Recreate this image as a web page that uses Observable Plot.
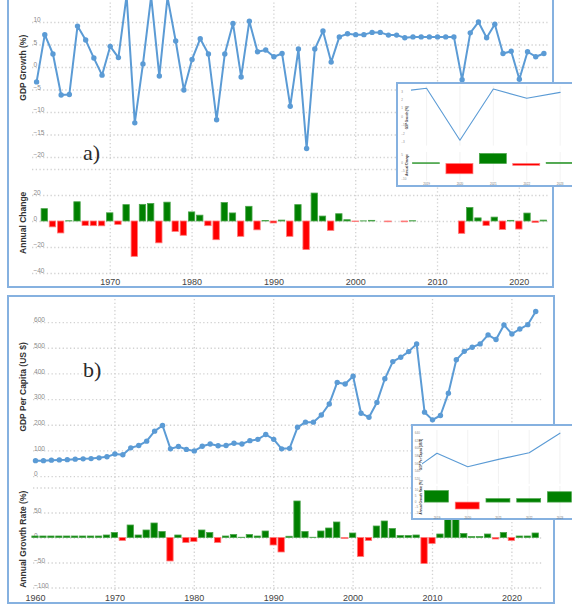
<!DOCTYPE html>
<html>
<head>
<meta charset="utf-8">
<script src="https://cdn.jsdelivr.net/npm/d3@7"></script>
<script src="https://cdn.jsdelivr.net/npm/@observablehq/plot@0.6"></script>
<style>
  html, body { margin: 0; padding: 0; background: #fff; }
  #root { position: relative; width: 572px; height: 605px; overflow: hidden; background: #fff; font-family: "Liberation Sans", Arial, sans-serif; }
  .panel, .inset { position: absolute; box-sizing: border-box; border: 2px solid #86b1e0; background: #fff; }
  .tag { position: absolute; font-family: "Liberation Serif", "DejaVu Serif", serif; font-size: 22px; line-height: 22px; color: #2a2a2a; }
</style>
</head>
<body>
<div id="root"></div>
<script>
// ---------------- DATA ----------------
const growthYears = d3.range(1961, 2024);
const gdpGrowth = [
  -3.2, 7.3, 3.0, -6.1, -6.0, 9.2, 6.1, 2.1, -1.7, 4.7,
  2.2, 16.0, -12.3, 0.8, 15.8, -1.9, 15.6, 5.9, -5.0, 1.8,
  6.4, 3.0, -11.6, 3.0, 9.8, -2.1, 10.3, 3.5, 3.9, 2.4,
  3.1, -8.6, 4.1, -18.0, 4.1, 8.1, 1.2, 6.8, 7.5, 7.3,
  7.3, 7.8, 7.8, 7.2, 7.2, 6.6, 6.8, 6.8, 6.8, 6.8,
  6.8, 6.8, -2.7, 7.7, 10.1, 6.6, 9.6, 3.1, 3.6, -2.6,
  3.5, 2.4, 3.1
];
const changeYears = d3.range(1962, 2024);
const annualChange = [
  9.5, -4.5, -9.2, 0.2, 14.8, -3.5, -3.6, -3.7, 6.3, -2.6,
  12.6, -27.2, 12.8, 13.5, -16.8, 14.5, -8.0, -11.0, 7.0, 4.5,
  -3.6, -14.4, 14.2, 6.2, -11.8, 11.3, -6.8, 0.4, -1.5, 0.7,
  -11.8, 12.6, -22.0, 21.5, 3.8, -7.2, 5.6, 1.0, -0.3, 0.1,
  0.5, 0.0, -0.6, 0.0, -0.6, 0.2, 0.0, 0.0, 0.0, 0.0,
  0.0, -9.5, 10.4, 2.4, -3.5, 3.0, -6.5, 0.5, -6.2, 6.1,
  -1.1, 0.7
];
const pcYears = d3.range(1960, 2024);
const gdpPerCapita = [
  62, 62, 64, 65, 66, 68, 69, 70, 73, 77,
  88, 85, 112, 121, 138, 177, 199, 108, 117, 106,
  100, 118, 127, 120, 121, 130, 127, 140, 145, 164,
  145, 108, 110, 192, 212, 212, 240, 283, 367, 361,
  391, 247, 231, 289, 381, 448, 465, 487, 517, 251,
  221, 238, 325, 455, 488, 504, 517, 552, 534, 591,
  556, 575, 592, 643
];
const growthRate = [
  3, 3, 3, 3, 3, 3, 3, 3, 3, 5,
  10, -6, 25, 5, 15, 29, 12, -47, 5, -10,
  -8, 15, 10, -10, 3, 6, 0.5, 6, 3, 13,
  -15, -29, 2.5, 73, 12, 0.5, 13, 19, 31, -2,
  9, -38, -6, 23, 33, 18, 4, 4, 5, -52,
  -12, 7, 37, 40, 8, 2, 2, 7, -3, 10,
  -6, 3, 3, 9
];

// tick labels / titles
const decadesA = [1970, 1980, 1990, 2000, 2010, 2020];
const decadesB = [1960, 1970, 1980, 1990, 2000, 2010, 2020];
const growthTicks = [-20, -15, -10, -5, 0, 5, 10];
const changeTicks = [-40, -20, 0, 20];
const changeGrid = [-40, -20, 0, 20, 40];
const gdpTicks = [0, 100, 200, 300, 400, 500, 600];
const rateTicks = [-100, -50, 0, 50];
const rateGrid = [-100, -50, 0, 50, 100];
const insetYears = [2019, 2020, 2021, 2022, 2023];
const insetGrowthTicks = [-3, -2, -1, 0, 1, 2, 3];
const insetChangeTicks = [-10, -5, 0, 5];
const insetGdpTicks = [520, 540, 560, 580, 600, 620, 640];
const insetRateTicks = [-10, -5, 0, 5, 10];
const titleGrowth = "GDP Growth (%)";
const titleChange = "Annual Change";
const titlePC = "GDP Per Capita (US $)";
const titleRate = "Annual Growth Rate (%)";
const tagA = "a)", tagB = "b)";

// ---------------- TABLES ----------------
const rowsGrowth = growthYears.map((year, i) => ({year, value: gdpGrowth[i]}));
const rowsChange = changeYears.map((year, i) => ({year, value: annualChange[i]}));
const rowsPC = pcYears.map((year, i) => ({year, value: gdpPerCapita[i]}));
const rowsRate = pcYears.map((year, i) => ({year, value: growthRate[i]}));

// ---------------- STYLE ----------------
const GREEN = "#008000", GREEN_EDGE = "#4ba54b", RED = "#ff0000", RED_EDGE = "#ff7a7a";
const LINE = "#5b9bd5", GRID = "#d2d2d2", TICK = "#8a8a8a", AXIS = "#444", TITLE = "#333";
const FONT = "Liberation Sans, Arial, sans-serif";

const root = document.getElementById("root");
function addDiv(cls, l, t, w, h, text) {
  const d = document.createElement("div");
  d.className = cls;
  d.style.left = l + "px"; d.style.top = t + "px";
  if (w != null) d.style.width = w + "px";
  if (h != null) d.style.height = h + "px";
  if (text) d.textContent = text;
  root.appendChild(d);
}
function chart(frame, xDomain, yDomain, marks, m = {}) {
  const mL = m.l ?? 30, mR = m.r ?? 6, mT = m.t ?? 4, mB = m.b ?? 4;
  const svg = Plot.plot({
    width: mL + (frame.r - frame.l) + mR,
    height: mT + (frame.b - frame.t) + mB,
    marginLeft: mL, marginRight: mR, marginTop: mT, marginBottom: mB,
    x: {domain: xDomain, axis: null, label: null},
    y: {domain: yDomain, axis: null, label: null},
    color: {type: "identity"},
    style: {background: "transparent", overflow: "visible", fontFamily: FONT},
    marks
  });
  svg.style.position = "absolute";
  svg.style.left = (frame.l - mL) + "px";
  svg.style.top = (frame.t - mT) + "px";
  svg.style.maxWidth = "none";
  root.appendChild(svg);
}
const hgrid = (ticks, o = {}) => Plot.ruleY(ticks, {stroke: GRID, strokeWidth: 1.3, strokeDasharray: "1.3,2.4", ...o});
const vgrid = (ticks, o = {}) => Plot.ruleX(ticks, {stroke: GRID, strokeWidth: 1.3, strokeDasharray: "1.3,2.4", ...o});
const yLabels = (ticks, dx, fontSize = 6.5, dy = -2.5) => Plot.axisY({ticks, tickSize: 0, tickPadding: 0, textAnchor: "start", dx, dy, fontSize, color: TICK, label: null});
const xLabels = (ticks, tickPadding, fontSize = 9, color = AXIS) => Plot.axisX({ticks, tickSize: 0, tickPadding, tickFormat: "d", fontSize, color, label: null});
const yTitle = (title, dx, dy, fontSize = 8.5) => Plot.text([title], {text: d => d, frameAnchor: "left", textAnchor: "middle", lineAnchor: "middle", rotate: -90, dx, dy, fontSize, fontWeight: "bold", fill: TITLE});
const bars = (rows, inset, sw = 0.8, o = {}) => Plot.rect(rows, {
  x1: d => d.year - 0.5, x2: d => d.year + 0.5, y1: 0, y2: "value",
  insetLeft: inset, insetRight: inset,
  fill: d => d.value >= 0 ? GREEN : RED,
  stroke: d => d.value >= 0 ? GREEN_EDGE : RED_EDGE, strokeWidth: sw, ...o
});

// ---------------- PANELS ----------------
addDiv("panel", 7, -10, 547, 298);
addDiv("panel", 7, 295, 548, 309);

// Panel a: GDP growth line
const xA = [1960.5, 2023.5];
chart({l: 32.1, r: 547.6, t: -4.7, b: 161.8}, xA, [-21, 16], [
  hgrid(growthTicks),
  vgrid(decadesA),
  yLabels(growthTicks, 0.9),
  yTitle(titleGrowth, -9, -11),
  Plot.line(rowsGrowth, {x: "year", y: "value", stroke: LINE, strokeWidth: 2}),
  Plot.dot(rowsGrowth, {x: "year", y: "value", r: 2.7, fill: LINE})
]);
// Panel a: annual change bars
chart({l: 32.1, r: 547.6, t: 168.7, b: 275.3}, xA, [-42, 40], [
  hgrid(changeGrid),
  vgrid(decadesA),
  yLabels(changeTicks, 0.9),
  yTitle(titleChange, -9, 0),
  bars(rowsChange, 0.9),
  xLabels(decadesA, 2.5)
], {b: 14});

// Panel b: GDP per capita line
const xB = [1959.75, 2023.9];
chart({l: 32.5, r: 541.9, t: 298.9, b: 483.7}, xB, [-30, 690], [
  hgrid(gdpTicks),
  vgrid(decadesB.slice(1)),
  yLabels(gdpTicks, 0.5),
  yTitle(titlePC, -10.5, -5),
  Plot.line(rowsPC, {x: "year", y: "value", stroke: LINE, strokeWidth: 2}),
  Plot.dot(rowsPC, {x: "year", y: "value", r: 2.7, fill: LINE})
]);
// Panel b: growth rate bars
chart({l: 32.5, r: 541.9, t: 485.2, b: 592.7}, xB, [-110, 105], [
  hgrid(rateGrid),
  vgrid(decadesB.slice(1)),
  yLabels(rateTicks, 0.5),
  yTitle(titleRate, -10.5, 0),
  bars(rowsRate, 0.8),
  xLabels(decadesB, 1.7)
], {b: 14});

addDiv("tag", 83, 141.5, null, null, tagA);
addDiv("tag", 83, 358.5, null, null, tagB);

// ---------------- INSETS ----------------
addDiv("inset", 396, 82, 200, 105);
addDiv("inset", 410.5, 424, 200, 96);

const inA = rowsGrowth.filter(d => d.year >= 2018);
const inAc = rowsChange.filter(d => d.year >= 2019);
const xIA = [2018.55, 2023.45];
chart({l: 410.7, r: 574.4, t: 85.6, b: 145.2}, xIA, [-3.3, 3.8], [
  Plot.ruleX(insetYears, {stroke: "#efefef", strokeWidth: 0.8}),
  yLabels(insetGrowthTicks, -10.2, 3, -1.5),
  yTitle(titleGrowth, -4.7, 1.5, 3),
  Plot.line(inA, {x: "year", y: "value", stroke: LINE, strokeWidth: 1.1, clip: true})
], {l: 14, r: 2, t: 2, b: 2});
chart({l: 410.7, r: 574.4, t: 151.75, b: 180.6}, xIA, [-10.5, 7], [
  Plot.ruleX(insetYears, {stroke: "#efefef", strokeWidth: 0.8}),
  yLabels(insetChangeTicks, -10.2, 3, -1),
  yTitle(titleChange, -4.7, -2, 3),
  bars(inAc, 3.2, 0.7),
  xLabels(insetYears, 1.2, 3, "#777")
], {l: 14, r: 2, t: 2, b: 6});

const inB = rowsPC.filter(d => d.year >= 2018);
const inBr = rowsRate.filter(d => d.year >= 2019);
const xIB = [2018.53, 2023.45];
chart({l: 421.7, r: 573, t: 430, b: 483.9}, xIB, [510, 650], [
  Plot.ruleX(insetYears, {stroke: "#efefef", strokeWidth: 0.8}),
  yLabels(insetGdpTicks, -7.7, 3, -1.5),
  yTitle(titlePC, -1.8, -3, 3),
  Plot.line(inB, {x: "year", y: "value", stroke: LINE, strokeWidth: 1.1, clip: true})
], {l: 12, r: 2, t: 2, b: 2});
chart({l: 421.7, r: 573, t: 485.6, b: 515.5}, xIB, [-12, 14], [
  Plot.ruleX(insetYears, {stroke: "#efefef", strokeWidth: 0.8}),
  yLabels(insetRateTicks, -7.7, 3, -1),
  yTitle(titleRate, -1.8, -4, 3),
  bars(inBr, 3.4, 0.7),
  xLabels(insetYears, 0.3, 3, "#777")
], {l: 12, r: 2, t: 2, b: 5});
</script>
</body>
</html>
